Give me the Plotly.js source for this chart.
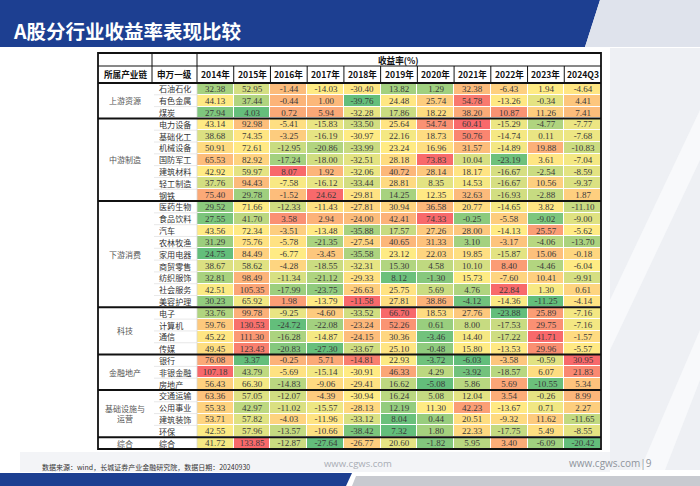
<!DOCTYPE html>
<html><head><meta charset="utf-8">
<script src="https://cdn.plot.ly/plotly-3.0.1.min.js"></script>
<style>html,body{margin:0;padding:0;background:#fff;}#chart{width:700px;height:486px;}</style>
</head><body><div id="chart"></div>
<script>
// ---------------- data ----------------
const years = ['2014年','2015年','2016年','2017年','2018年','2019年','2020年','2021年','2022年','2023年','2024Q3'];
const chains = ['上游资源','中游制造','下游消费','科技','金融地产','基础设施与<br>运营','综合'];
const indUpstream = ['石油石化','有色金属','煤炭'];
const indMidstream = ['电力设备','基础化工','机械设备','国防军工','建筑材料','轻工制造','钢铁'];
const indConsumer = ['医药生物','食品饮料','汽车','农林牧渔','家用电器','商贸零售','纺织服饰','社会服务','美容护理'];
const indTech = ['电子','计算机','通信','传媒'];
const indFinance = ['银行','非银金融','房地产'];
const indInfra = ['交通运输','公用事业','建筑装饰','环保'];
const indMisc = ['综合'];

const valUpstream = [
  [32.38, 52.95, -1.44, -14.03, -30.40, 13.82, 1.29, 32.38, -6.43, 1.94, -4.64],
  [44.13, 37.44, -0.44, 1.00, -39.76, 24.48, 25.74, 54.78, -13.26, -0.34, 4.41],
  [27.94, 4.03, 0.72, 5.94, -32.28, 17.86, 18.22, 38.20, 10.87, 11.26, 7.41]
];
const valMidstream = [
  [43.14, 92.98, -5.41, -15.83, -33.50, 25.64, 54.74, 60.41, -15.29, -4.77, -7.77],
  [38.68, 74.35, -3.25, -16.19, -30.97, 22.16, 18.73, 50.76, -14.74, 0.11, -7.68],
  [50.91, 72.61, -12.95, -20.86, -33.99, 23.24, 16.96, 31.57, -14.89, 19.88, -10.83],
  [65.53, 82.92, -17.24, -18.00, -32.51, 28.18, 73.83, 10.04, -23.19, 3.61, -7.04],
  [42.92, 59.97, 8.07, 1.92, -32.06, 40.72, 28.14, 18.17, -16.67, -2.54, -8.59],
  [37.76, 94.43, -7.58, -16.12, -33.44, 28.81, 8.35, 14.53, -16.67, 10.56, -9.37],
  [75.40, 29.78, -1.52, 24.62, -29.81, 14.25, 12.35, 32.63, -16.93, -2.88, 1.87]
];
const valConsumer = [
  [29.52, 71.66, -12.33, -11.43, -27.81, 30.94, 36.58, 20.77, -14.65, 3.82, -11.10],
  [27.55, 41.70, 3.58, 2.94, -24.00, 42.41, 74.33, -0.25, -5.58, -9.02, -9.00],
  [43.56, 72.34, -3.51, -13.48, -35.88, 17.57, 27.26, 28.00, -14.13, 25.57, -5.62],
  [31.29, 75.76, -5.78, -21.35, -27.54, 40.65, 31.33, 3.10, -3.17, -4.06, -13.70],
  [24.75, 84.49, -6.77, -3.45, -35.58, 23.12, 22.03, 19.85, -15.87, 15.06, -0.18],
  [38.67, 58.62, -4.28, -18.55, -32.31, 15.30, 4.58, 10.10, 8.40, -4.46, -6.04],
  [32.81, 98.49, -11.34, -21.12, -29.33, 8.12, -1.30, 15.73, -7.60, 10.41, -9.91],
  [42.51, 105.35, -17.99, -23.75, -26.63, 25.75, 5.69, 4.76, 22.84, 1.30, 0.61],
  [30.23, 65.92, 1.98, -13.79, -11.58, 27.81, 38.86, -4.12, -14.36, -11.25, -4.14]
];
const valTech = [
  [33.76, 99.78, -9.25, -4.60, -33.52, 66.70, 18.53, 27.76, -23.88, 25.89, -7.16],
  [59.76, 130.53, -24.72, -22.08, -23.24, 52.26, 0.61, 8.00, -17.53, 29.75, -7.16],
  [45.22, 111.30, -16.28, -14.87, -24.15, 30.36, -3.46, 14.40, -17.22, 41.71, -1.57],
  [49.45, 123.43, -20.83, -27.30, -33.67, 25.10, -0.48, 15.80, -13.53, 29.96, -5.57]
];
const valFinance = [
  [76.08, 3.37, -0.25, 5.71, -14.81, 22.93, -3.72, -6.03, -3.58, -0.59, 30.95],
  [107.18, 43.79, -5.69, -15.14, -30.91, 46.33, 4.29, -3.92, -18.57, 6.07, 21.83],
  [56.43, 66.30, -14.83, -9.06, -29.41, 16.62, -5.08, 5.86, 5.69, -10.55, 5.34]
];
const valInfra = [
  [63.36, 57.05, -12.07, -4.39, -30.94, 16.24, 5.08, 12.04, 3.54, -0.26, 8.99],
  [55.33, 42.97, -11.02, -15.57, -28.13, 12.19, 11.30, 42.23, -13.67, 0.71, 2.27],
  [53.71, 57.82, -4.03, -11.96, -33.12, 8.04, 0.44, 20.51, -9.32, 11.62, -11.65],
  [42.55, 57.96, -13.57, -10.66, -38.42, 7.32, 1.80, 22.33, -17.75, 5.49, -8.55]
];
const valMisc = [
  [41.72, 133.85, -12.87, -27.64, -26.77, 20.60, -1.82, 5.95, 3.40, -6.09, -20.42]
];

// ---------------- build ----------------
const groupsInd = [indUpstream, indMidstream, indConsumer, indTech, indFinance, indInfra, indMisc];
const groupsVal = [valUpstream, valMidstream, valConsumer, valTech, valFinance, valInfra, valMisc];
const industries = [].concat(...groupsInd);
const values = [].concat(...groupsVal);
const rowIdx = industries.map((_, i) => i);
const nCol = years.length;

// per-column 3-colour scale (min / median / max), like Excel conditional formatting
const colStats = years.map((_, j) => {
  const col = values.map(r => r[j]).slice().sort((a, b) => a - b);
  const n = col.length;
  const pos = (n - 1) * 0.5, lo = Math.floor(pos), hi = Math.ceil(pos);
  const med = col[lo] + (col[hi] - col[lo]) * (pos - lo);
  return {min: col[0], med: med, max: col[n - 1]};
});
const zNorm = values.map(r => r.map((v, j) => {
  const s = colStats[j];
  if (v <= s.med) return s.med === s.min ? 0.5 : 0.5 * (v - s.min) / (s.med - s.min);
  return s.max === s.med ? 0.5 : 0.5 + 0.5 * (v - s.med) / (s.max - s.med);
}));
const txt = values.map(r => r.map(v => v.toFixed(2)));

// ---------------- geometry helpers (pixels -> paper) ----------------
const W = 700, H = 486;
const X = p => p / W, Y = p => 1 - p / H;
const tL = 98, tR = 601, cChain = 152, cName = 197, tTop = 53, hMid = 66, hBot = 83, tBot = 449;

const shapes = [];
const annotations = [];
const black = '#111';

// background decoration
shapes.push({type:'path', xref:'paper', yref:'paper', layer:'below', fillcolor:'#eef0f4', line:{width:0},
  path:`M ${X(610)} ${Y(48)} L ${X(700)} ${Y(48)} L ${X(700)} ${Y(470)} L ${X(610)} ${Y(470)} Z`});
shapes.push({type:'path', xref:'paper', yref:'paper', layer:'below', fillcolor:'#f8f9fb', line:{width:0},
  path:`M ${X(640)} ${Y(470)} L ${X(700)} ${Y(330)} L ${X(700)} ${Y(380)} L ${X(665)} ${Y(470)} Z`});
shapes.push({type:'path', xref:'paper', yref:'paper', layer:'below', fillcolor:'#f8f9fb', line:{width:0},
  path:`M ${X(610)} ${Y(300)} L ${X(700)} ${Y(110)} L ${X(700)} ${Y(160)} L ${X(610)} ${Y(350)} Z`});
shapes.push({type:'rect', xref:'paper', yref:'paper', layer:'below', x0:X(20), x1:X(610), y0:Y(472), y1:Y(452), fillcolor:'#f3f4f7', line:{width:0}});

// title band
shapes.push({type:'path', xref:'paper', yref:'paper', fillcolor:'#1d3f91', line:{width:0},
  path:`M ${X(0)} ${Y(0)} L ${X(600)} ${Y(0)} L ${X(585)} ${Y(47)} L ${X(0)} ${Y(47)} Z`});
shapes.push({type:'path', xref:'paper', yref:'paper', fillcolor:'#dfe3ec', line:{width:0},
  path:`M ${X(600)} ${Y(0)} L ${X(700)} ${Y(0)} L ${X(700)} ${Y(47)} L ${X(585)} ${Y(47)} Z`});
// footer bars
shapes.push({type:'path', xref:'paper', yref:'paper', fillcolor:'#1d3f91', line:{width:0},
  path:`M ${X(0)} ${Y(473)} L ${X(352)} ${Y(473)} L ${X(346)} ${Y(486)} L ${X(0)} ${Y(486)} Z`});
shapes.push({type:'path', xref:'paper', yref:'paper', fillcolor:'#c8cad0', line:{width:0},
  path:`M ${X(356)} ${Y(476)} L ${X(700)} ${Y(476)} L ${X(700)} ${Y(486)} L ${X(352)} ${Y(486)} Z`});

// table: white body for label columns
shapes.push({type:'rect', xref:'paper', yref:'paper', x0:X(tL), x1:X(tR), y0:Y(tBot), y1:Y(tTop), fillcolor:'#ffffff', line:{width:0}, layer:'below'});

// faint lines in name column
rowIdx.forEach(i => {
  if (i < industries.length - 1) shapes.push({type:'line', xref:'paper', yref:'y', x0:X(cChain + 2), x1:X(cName), y0:i + 0.5, y1:i + 0.5, line:{color:'#e2e2e2', width:0.8}});
});
shapes.push({type:'line', xref:'paper', yref:'paper', x0:X(cName), x1:X(cName), y0:Y(hBot), y1:Y(tBot), line:{color:'#d8d8d8', width:0.8}});

// header lines
shapes.push({type:'line', xref:'paper', yref:'paper', x0:X(tL), x1:X(tR), y0:Y(hMid), y1:Y(hMid), line:{color:black, width:1}});
[cChain, cName].forEach(cx => shapes.push({type:'line', xref:'paper', yref:'paper', x0:X(cx), x1:X(cx), y0:Y(tTop), y1:Y(hBot), line:{color:black, width:1}}));
years.forEach((_, j) => {
  if (j < nCol - 1) shapes.push({type:'line', xref:'x', yref:'paper', x0:j + 0.5, x1:j + 0.5, y0:Y(hMid), y1:Y(hBot), line:{color:black, width:1}});
});
shapes.push({type:'line', xref:'paper', yref:'paper', x0:X(tL), x1:X(tR), y0:Y(hBot), y1:Y(hBot), line:{color:black, width:2}});

// group separators + chain labels
let start = 0;
groupsInd.forEach((g, k) => {
  const end = start + g.length;
  const mid = (start + end - 1) / 2;
  annotations.push({xref:'paper', yref:'y', x:X((tL + cChain) / 2), y:mid, text:chains[k], showarrow:false,
    font:{family:'Noto Sans CJK SC, sans-serif', size:8, color:'#555'}, xanchor:'center', yanchor:'middle'});
  if (k < groupsInd.length - 1) shapes.push({type:'line', xref:'paper', yref:'y', x0:X(tL), x1:X(tR), y0:end - 0.5, y1:end - 0.5, line:{color:black, width:2}});
  start = end;
});

// outer border
shapes.push({type:'rect', xref:'paper', yref:'paper', x0:X(tL), x1:X(tR), y0:Y(tBot), y1:Y(tTop), line:{color:black, width:1.8}, fillcolor:'rgba(0,0,0,0)'});

// industry names
industries.forEach((name, i) => annotations.push({xref:'paper', yref:'y', x:X(cChain + 5), y:i, text:name, showarrow:false,
  xanchor:'left', yanchor:'middle', font:{family:'Noto Sans CJK SC, sans-serif', size:8.1, color:'#333'}}));

// header texts
const hFont = {family:'Noto Sans CJK SC, sans-serif', size:8.6, color:'#111'};
annotations.push({xref:'paper', yref:'paper', x:X((cName + tR) / 2), y:Y(59.5), xanchor:'center', text:'<b>收益率(%)</b>', showarrow:false, font:hFont, yanchor:'middle'});
annotations.push({xref:'paper', yref:'paper', x:X((tL + cChain) / 2), y:Y(74.5), xanchor:'center', text:'<b>所属产业链</b>', showarrow:false, font:hFont, yanchor:'middle'});
annotations.push({xref:'paper', yref:'paper', x:X((cChain + cName) / 2), y:Y(74.5), xanchor:'center', text:'<b>申万一级</b>', showarrow:false, font:hFont, yanchor:'middle'});
years.forEach(yr => annotations.push({xref:'x', yref:'paper', x:yr, y:Y(74.5), xanchor:'center', text:'<b>' + yr + '</b>', showarrow:false, font:hFont, yanchor:'middle'}));

// title & footer text
annotations.push({xref:'paper', yref:'paper', x:X(11), y:Y(30), text:'<b>A股分行业收益率表现比较</b>', showarrow:false, xanchor:'left', yanchor:'middle',
  font:{family:'Noto Sans CJK SC, sans-serif', size:19.5, color:'#ffffff'}});
annotations.push({xref:'paper', yref:'paper', x:X(40), y:Y(467), text:'数据来源：wind，长城证券产业金融研究院，数据日期：20240930', showarrow:false, xanchor:'left', yanchor:'middle',
  font:{family:'Noto Sans CJK SC, sans-serif', size:7, color:'#333'}});
annotations.push({xref:'paper', yref:'paper', x:X(322), y:Y(463), text:'www.cgws.com', showarrow:false, xanchor:'left', yanchor:'middle',
  font:{family:'Open Sans, sans-serif', size:9.5, color:'#a9adb5'}});
annotations.push({xref:'paper', yref:'paper', x:X(567), y:Y(463), text:'www.cgws.com|9', showarrow:false, xanchor:'left', yanchor:'middle',
  font:{family:'Open Sans, sans-serif', size:10, color:'#8f949c'}});

const trace = {
  type:'heatmap',
  x: years, y: rowIdx, z: zNorm, text: txt,
  texttemplate:'%{text}',
  textfont:{family:'Liberation Serif, serif', size:9, color:'#3a3a3a'},
  colorscale:[[0, '#63BE7B'], [0.5, '#FFEB84'], [1, '#F8696B']],
  zmin:0, zmax:1, showscale:false, xgap:1, ygap:1, hoverinfo:'skip'
};

const layout = {
  width:W, height:H, margin:{l:0, r:0, t:0, b:0},
  paper_bgcolor:'#ffffff', plot_bgcolor:'rgba(0,0,0,0)',
  xaxis:{domain:[X(cName), X(tR)], showticklabels:false, showgrid:false, zeroline:false, showline:false, ticks:'', fixedrange:true, type:'category'},
  yaxis:{domain:[Y(tBot), Y(hBot)], range:[industries.length - 0.5, -0.5], showticklabels:false, showgrid:false, zeroline:false, showline:false, ticks:'', fixedrange:true},
  shapes: shapes, annotations: annotations, showlegend:false
};
Plotly.newPlot('chart', [trace], layout, {staticPlot:true, displayModeBar:false});
</script></body></html>
